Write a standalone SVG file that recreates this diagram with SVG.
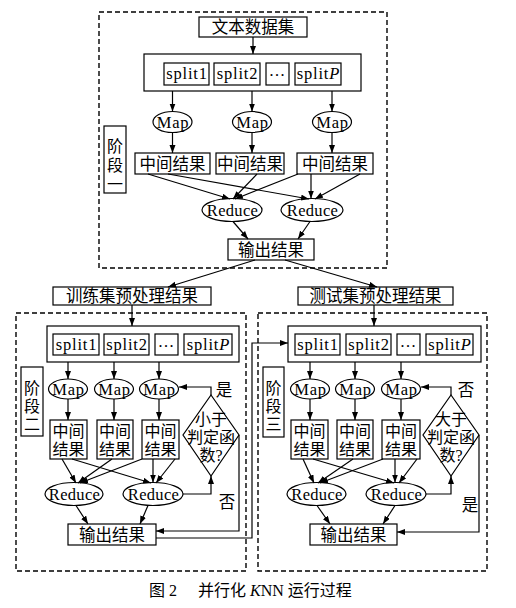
<svg xmlns="http://www.w3.org/2000/svg" width="516" height="608" viewBox="0 0 516 608">
<defs>
<marker id="ah" markerUnits="userSpaceOnUse" markerWidth="9" markerHeight="7" refX="8" refY="3" orient="auto"><path d="M0,0 L8,3 L0,6 z" fill="#000"/></marker>
</defs>
<style>
.frame{fill:none;stroke:#000;stroke-width:1.4;stroke-dasharray:5 3}
.box{fill:#fff;stroke:#000;stroke-width:1.2}
.ell{fill:#fff;stroke:#000;stroke-width:1.2}
.c{fill:none;stroke:#000;stroke-width:1.2;marker-end:url(#ah)}
.cn{font-family:"Noto Sans CJK SC",sans-serif;font-size:16.5px;fill:#000;text-anchor:middle}
.cn2{font-family:"Liberation Serif","Noto Sans CJK SC",sans-serif;font-size:16px;fill:#000;text-anchor:middle}
.lat{font-family:"Liberation Serif",serif;font-size:16.5px;letter-spacing:.8px;fill:#000;text-anchor:middle}
.red{font-family:"Liberation Serif",serif;font-size:16.5px;letter-spacing:.3px;fill:#000;text-anchor:middle}
.cap{font-family:"Liberation Serif","Noto Sans CJK SC",serif;font-size:16px;fill:#000}
</style>
<rect width="516" height="608" fill="#fff"/>

<!-- Stage 1 -->
<g id="s1-frame"><rect class="frame" x="99" y="12" width="288" height="256"/></g>
<g id="s1-dataset"><rect class="box" x="199" y="17" width="108" height="20"/><text class="cn" x="253" y="33">文本数据集</text></g>
<g id="s1-splits"><rect class="box" x="144" y="54" width="217" height="37"/></g>
<g id="s1-split1"><rect class="box" x="164" y="63" width="45" height="22"/><text class="lat" x="187" y="79">split1</text></g>
<g id="s1-split2"><rect class="box" x="214" y="63" width="46" height="22"/><text class="lat" x="237.5" y="79">split2</text></g>
<g id="s1-splitdots"><rect class="box" x="266" y="63" width="23" height="22"/><text class="lat" x="277.5" y="76">…</text></g>
<g id="s1-splitP"><rect class="box" x="295" y="63" width="46" height="22"/><text class="lat" x="318.5" y="79">split<tspan font-style="italic">P</tspan></text></g>
<g id="s1-map1"><ellipse class="ell" cx="172.5" cy="122" rx="19.5" ry="10.5"/><text class="lat" x="173" y="127.5">Map</text></g>
<g id="s1-map2"><ellipse class="ell" cx="252" cy="122" rx="19.5" ry="10.5"/><text class="lat" x="252.5" y="127.5">Map</text></g>
<g id="s1-map3"><ellipse class="ell" cx="332" cy="122" rx="19.5" ry="10.5"/><text class="lat" x="332.5" y="127.5">Map</text></g>
<g id="s1-mid1"><rect class="box" x="135" y="153" width="75" height="21"/><text class="cn" x="172.5" y="169.5">中间结果</text></g>
<g id="s1-mid2"><rect class="box" x="216" y="153" width="68" height="21"/><text class="cn" x="250" y="169.5">中间结果</text></g>
<g id="s1-mid3"><rect class="box" x="297" y="153" width="76" height="21"/><text class="cn" x="335" y="169.5">中间结果</text></g>
<g id="s1-label"><rect class="box" x="104" y="126" width="22" height="67"/><text class="cn2"><tspan x="115" y="152">阶</tspan><tspan x="115" y="171">段</tspan><tspan x="115" y="190">一</tspan></text></g>
<g id="s1-reduce1"><ellipse class="ell" cx="232" cy="210" rx="30" ry="11.5"/><text class="red" x="232.5" y="215.5">Reduce</text></g>
<g id="s1-reduce2"><ellipse class="ell" cx="312" cy="210" rx="31" ry="11.5"/><text class="red" x="312.5" y="215.5">Reduce</text></g>
<g id="s1-output"><rect class="box" x="228" y="239" width="86" height="21"/><text class="cn" x="271" y="255.5">输出结果</text></g>

<g id="train-result"><rect class="box" x="53" y="287" width="158" height="18"/><text class="cn" x="132" y="302">训练集预处理结果</text></g>
<g id="test-result"><rect class="box" x="298" y="287" width="155" height="18"/><text class="cn" x="375.5" y="302">测试集预处理结果</text></g>

<!-- Stage 2 -->
<g id="s2-frame"><rect class="frame" x="16" y="313" width="230" height="258"/></g>
<g id="s2-splits"><rect class="box" x="47" y="326" width="192" height="36"/></g>
<g id="s2-split1"><rect class="box" x="53" y="334" width="46" height="21"/><text class="lat" x="76.5" y="350">split1</text></g>
<g id="s2-split2"><rect class="box" x="104" y="334" width="45" height="21"/><text class="lat" x="127" y="350">split2</text></g>
<g id="s2-splitdots"><rect class="box" x="155" y="334" width="23" height="21"/><text class="lat" x="166.5" y="347">…</text></g>
<g id="s2-splitP"><rect class="box" x="184" y="334" width="48" height="21"/><text class="lat" x="208.5" y="350">split<tspan font-style="italic">P</tspan></text></g>
<g id="s2-map1"><ellipse class="ell" cx="68" cy="389" rx="19.5" ry="10"/><text class="lat" x="68.5" y="394.5">Map</text></g>
<g id="s2-map2"><ellipse class="ell" cx="114" cy="389" rx="19.5" ry="10"/><text class="lat" x="114.5" y="394.5">Map</text></g>
<g id="s2-map3"><ellipse class="ell" cx="159" cy="389" rx="19.5" ry="10"/><text class="lat" x="159.5" y="394.5">Map</text></g>
<g id="s2-mid1"><rect class="box" x="50" y="420" width="37" height="39"/><text class="cn2"><tspan x="68.5" y="436.5">中间</tspan><tspan x="68.5" y="454.5">结果</tspan></text></g>
<g id="s2-mid2"><rect class="box" x="97" y="420" width="36" height="39"/><text class="cn2"><tspan x="115" y="436.5">中间</tspan><tspan x="115" y="454.5">结果</tspan></text></g>
<g id="s2-mid3"><rect class="box" x="142" y="420" width="37" height="39"/><text class="cn2"><tspan x="160.5" y="436.5">中间</tspan><tspan x="160.5" y="454.5">结果</tspan></text></g>
<g id="s2-label"><rect class="box" x="21" y="367" width="22" height="69"/><text class="cn2"><tspan x="32" y="394">阶</tspan><tspan x="32" y="412">段</tspan><tspan x="32" y="430">二</tspan></text></g>
<g id="s2-decision"><polygon class="box" points="211,395 239,435 211,476 183,435"/><text class="cn2"><tspan x="211" y="424.5">小于</tspan><tspan x="211" y="442.5">判定函</tspan><tspan x="211" y="460.5">数?</tspan></text></g>
<g id="s2-reduce1"><ellipse class="ell" cx="74" cy="494" rx="29" ry="11.5"/><text class="red" x="74.5" y="499.5">Reduce</text></g>
<g id="s2-reduce2"><ellipse class="ell" cx="153" cy="494" rx="30" ry="11.5"/><text class="red" x="153.5" y="499.5">Reduce</text></g>
<g id="s2-output"><rect class="box" x="68" y="524" width="88" height="21"/><text class="cn" x="112" y="540.5">输出结果</text></g>

<!-- Stage 3 -->
<g id="s3-frame"><rect class="frame" x="258" y="313" width="229" height="258"/></g>
<g id="s3-splits"><rect class="box" x="288" y="326" width="193" height="36"/></g>
<g id="s3-split1"><rect class="box" x="295" y="334" width="45" height="21"/><text class="lat" x="318" y="350">split1</text></g>
<g id="s3-split2"><rect class="box" x="346" y="334" width="45" height="21"/><text class="lat" x="369" y="350">split2</text></g>
<g id="s3-splitdots"><rect class="box" x="397" y="334" width="23" height="21"/><text class="lat" x="408.5" y="347">…</text></g>
<g id="s3-splitP"><rect class="box" x="426" y="334" width="47" height="21"/><text class="lat" x="450" y="350">split<tspan font-style="italic">P</tspan></text></g>
<g id="s3-map1"><ellipse class="ell" cx="310" cy="389" rx="19.5" ry="10"/><text class="lat" x="310.5" y="394.5">Map</text></g>
<g id="s3-map2"><ellipse class="ell" cx="355" cy="389" rx="19.5" ry="10"/><text class="lat" x="355.5" y="394.5">Map</text></g>
<g id="s3-map3"><ellipse class="ell" cx="401" cy="389" rx="19.5" ry="10"/><text class="lat" x="401.5" y="394.5">Map</text></g>
<g id="s3-mid1"><rect class="box" x="291" y="420" width="37" height="39"/><text class="cn2"><tspan x="309.5" y="436.5">中间</tspan><tspan x="309.5" y="454.5">结果</tspan></text></g>
<g id="s3-mid2"><rect class="box" x="337" y="420" width="36" height="39"/><text class="cn2"><tspan x="355" y="436.5">中间</tspan><tspan x="355" y="454.5">结果</tspan></text></g>
<g id="s3-mid3"><rect class="box" x="382" y="420" width="38" height="39"/><text class="cn2"><tspan x="401" y="436.5">中间</tspan><tspan x="401" y="454.5">结果</tspan></text></g>
<g id="s3-label"><rect class="box" x="263" y="367" width="21" height="70"/><text class="cn2"><tspan x="273.5" y="394">阶</tspan><tspan x="273.5" y="412">段</tspan><tspan x="273.5" y="430">三</tspan></text></g>
<g id="s3-decision"><polygon class="box" points="451,395 479,435 451,476 423,435"/><text class="cn2"><tspan x="451" y="424.5">大于</tspan><tspan x="451" y="442.5">判定函</tspan><tspan x="451" y="460.5">数?</tspan></text></g>
<g id="s3-reduce1"><ellipse class="ell" cx="316.5" cy="494" rx="29.5" ry="11.5"/><text class="red" x="317" y="499.5">Reduce</text></g>
<g id="s3-reduce2"><ellipse class="ell" cx="396" cy="494" rx="30" ry="11.5"/><text class="red" x="396.5" y="499.5">Reduce</text></g>
<g id="s3-output"><rect class="box" x="310" y="524" width="87" height="21"/><text class="cn" x="353.5" y="540.5">输出结果</text></g>

<!-- Connectors -->
<g id="connectors">
<path class="c" d="M253,37 V54"/>
<path class="c" d="M172.5,91 V111.5"/>
<path class="c" d="M252,91 V111.5"/>
<path class="c" d="M332,91 V111.5"/>
<path class="c" d="M172.5,132.5 V153"/>
<path class="c" d="M252,132.5 V153"/>
<path class="c" d="M332,132.5 V153"/>
<path class="c" d="M148,174 L230,199"/>
<path class="c" d="M168,174 L309,199"/>
<path class="c" d="M257,174 L233,199"/>
<path class="c" d="M298,174 L235,199"/>
<path class="c" d="M311,174 V198.5"/>
<path class="c" d="M360,174 L315,199"/>
<path class="c" d="M233,221.5 L248,239"/>
<path class="c" d="M310,221.5 L298,239"/>
<path class="c" d="M255,260 L168,287"/>
<path class="c" d="M285,260 L377,287"/>
<path class="c" d="M132,305 V326"/>
<path class="c" d="M374,305 V326"/>

<path class="c" d="M68,362 V379"/>
<path class="c" d="M114,362 V379"/>
<path class="c" d="M159,362 V379"/>
<path class="c" d="M68,399 V420"/>
<path class="c" d="M114,399 V420"/>
<path class="c" d="M159,399 V420"/>
<path class="c" d="M62,459 L76,483"/>
<path class="c" d="M72,459 L151,483"/>
<path class="c" d="M112,459 L78,483"/>
<path class="c" d="M142,459 L80,483"/>
<path class="c" d="M153,459 V482.5"/>
<path class="c" d="M175,459 L156,483"/>
<path class="c" d="M76,505.5 L88,524"/>
<path class="c" d="M148,505.5 L140,524"/>
<path class="c" d="M211,395 V387 H179"/>
<path class="c" d="M183,494 H211 V476"/>
<path class="c" d="M239,435 V531 H156"/>
<path class="c" d="M156,538 H252 V343 H288"/>

<path class="c" d="M310,362 V379"/>
<path class="c" d="M355,362 V379"/>
<path class="c" d="M401,362 V379"/>
<path class="c" d="M310,399 V420"/>
<path class="c" d="M355,399 V420"/>
<path class="c" d="M401,399 V420"/>
<path class="c" d="M303,459 L314,483"/>
<path class="c" d="M313,459 L394,483"/>
<path class="c" d="M353,459 L318,483"/>
<path class="c" d="M383,459 L320,483"/>
<path class="c" d="M395,459 V482.5"/>
<path class="c" d="M417,459 L399,483"/>
<path class="c" d="M317,505.5 L330,524"/>
<path class="c" d="M395,505.5 L383,524"/>
<path class="c" d="M451,395 V387 H421"/>
<path class="c" d="M426,494 H451 V476"/>
<path class="c" d="M479,435 V532 H397"/>
</g>

<g id="edge-labels">
<text class="cn" x="224" y="396">是</text>
<text class="cn" x="227" y="508">否</text>
<text class="cn" x="466" y="396">否</text>
<text class="cn" x="470" y="511">是</text>
</g>

<g id="caption">
<text class="cap" x="149" y="596">图 2</text>
<text class="cap" x="198" y="596">并行化 <tspan font-style="italic">K</tspan>NN 运行过程</text>
</g>
</svg>
